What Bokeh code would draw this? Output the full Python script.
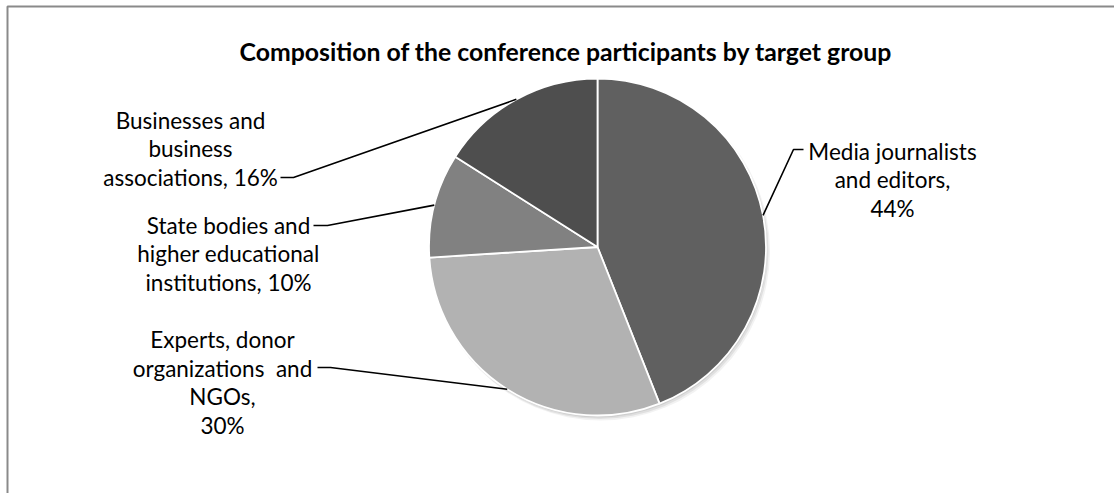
import math
from bokeh.plotting import figure
from bokeh.models import ColumnDataSource, Range1d
from bokeh.core.properties import value
from bokeh.embed import file_html
from bokeh.resources import INLINE

# ---------------- data ----------------
title = "Composition of the conference participants by target group"
categories = ["Media journalists and editors",
              "Experts, donor organizations and NGOs",
              "State bodies and higher educational institutions",
              "Businesses and business associations"]
shares = [44, 30, 10, 16]
colors = ["#606060", "#b2b2b2", "#818181", "#4e4e4e"]
label_lines = [
    ["Media journalists", "and editors,", "{}%"],
    ["Experts, donor", "organizations\u00a0 and", "NGOs,", "{}%"],
    ["State bodies and", "higher educational", "institutions, {}%"],
    ["Businesses and", "business", "associations, {}%"],
]

# ---------------- layout (pixels, y from top) ----------------
W, H = 1114, 493
CX, CY, R = 597, 246.5, 168.5
label_x = [892, 222, 228, 190]
label_y0 = [150.7, 339.3, 225, 120]
LINE_H = 28.4
tail_text = [(803, 149), (317, 367), (313, 225), (280, 177)]
tail_elbow = [(793, 149), (330, 367), (327, 225), (293, 177)]
FONT = "Lato"


def Y(py):
    return H - py


p = figure(width=W, height=H, x_range=Range1d(0, W), y_range=Range1d(0, H),
           output_backend="svg", toolbar_location=None, min_border=0,
           x_axis_type=None, y_axis_type=None)
p.grid.visible = False
p.outline_line_color = None
p.background_fill_color = "white"
p.border_fill_color = "white"

# frame of the chart area (extends past the window on right/bottom)
p.line(x=[7, 7, W + 5], y=[Y(H + 5), Y(6), Y(6)], line_color="#8a8a8a", line_width=2)

# soft shadow
for dx, dy, rr, a in [(3, 4, R + 1, 0.05), (2, 3, R + 0.5, 0.07), (1, 2, R, 0.08)]:
    p.circle(x=[CX + dx], y=[Y(CY + dy)], radius=rr, fill_color="black",
             fill_alpha=a, line_color=None)

# pie wedges (clockwise from 12 o'clock)
total = sum(shares)
starts, ends, mids = [], [], []
a0 = 90.0
for s in shares:
    a1 = a0 - 360.0 * s / total
    starts.append(math.radians(a0))
    ends.append(math.radians(a1))
    mids.append(math.radians((a0 + a1) / 2))
    a0 = a1

src = ColumnDataSource(dict(x=[CX] * len(shares), y=[Y(CY)] * len(shares),
                            start=starts, end=ends, color=colors, cat=categories))
p.wedge(x="x", y="y", radius=R, start_angle="start", end_angle="end",
        direction="clock", fill_color="color", line_color="white",
        line_width=1.8, source=src)

# leader lines
xs, ys = [], []
for i, m in enumerate(mids):
    ex = CX + R * math.cos(m)
    ey = Y(CY) + R * math.sin(m)
    xs.append([tail_text[i][0], tail_elbow[i][0], ex])
    ys.append([Y(tail_text[i][1]), Y(tail_elbow[i][1]), ey])
p.multi_line(xs=xs, ys=ys, line_color="black", line_width=1.6)

# labels
tx, ty, tt = [], [], []
for i, lines in enumerate(label_lines):
    for j, ln in enumerate(lines):
        tx.append(label_x[i])
        ty.append(Y(label_y0[i] + j * LINE_H))
        tt.append(ln.format(shares[i]))
p.text(x=tx, y=ty, text=tt, text_align="center", text_baseline="alphabetic",
       text_font=value(FONT), text_font_size="22.5px", text_color="black")

# title
p.text(x=[565.5], y=[Y(50.7)], text=[title], text_align="center",
       text_baseline="alphabetic", text_font=value(FONT),
       text_font_size="24.8px", text_font_style="bold", text_color="black")

open("out.html", "w").write(file_html(p, INLINE))
